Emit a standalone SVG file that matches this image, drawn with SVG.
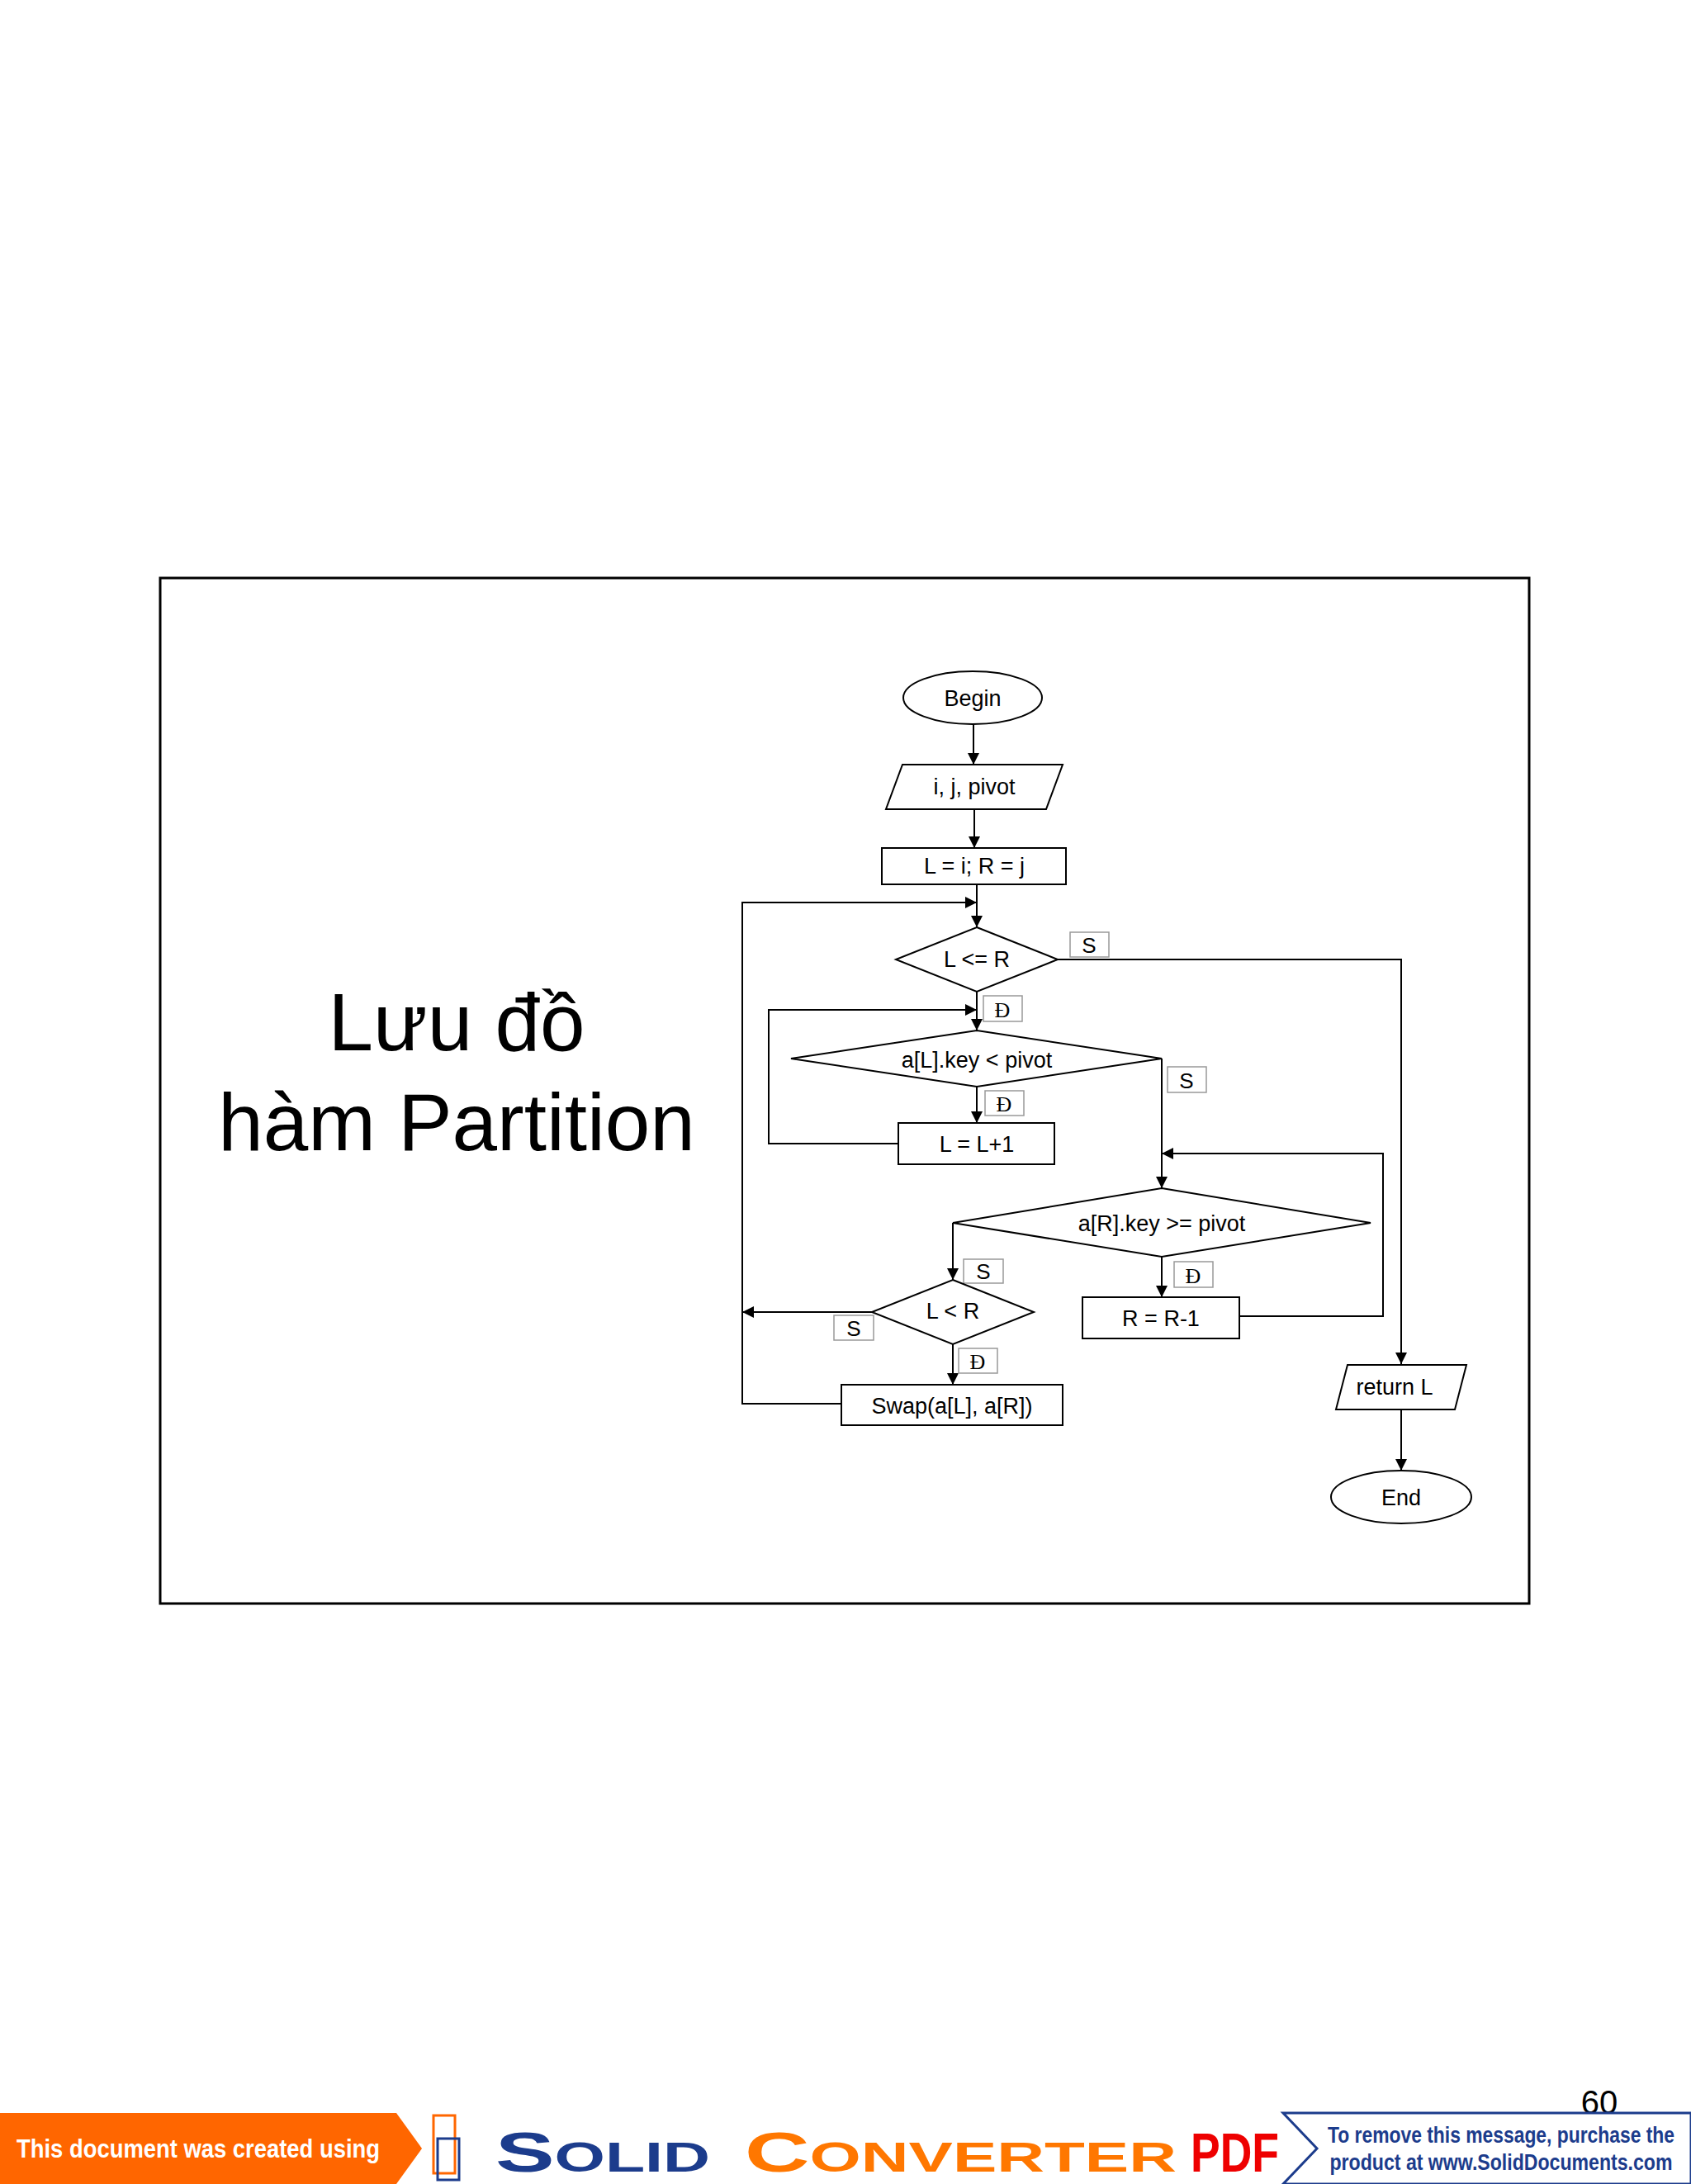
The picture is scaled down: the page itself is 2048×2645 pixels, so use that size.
<svg xmlns="http://www.w3.org/2000/svg" width="2048" height="2645" viewBox="0 0 2048 2645">
<style>
.s{fill:#fff;stroke:#000;stroke-width:2}
.t{font-family:"Liberation Sans",Arial,sans-serif;font-size:27px;text-anchor:middle;fill:#000}
.lb{fill:#fff;stroke:#999;stroke-width:1.5}
.ls{font-family:"Liberation Sans",Arial,sans-serif;font-size:26px;text-anchor:middle}
.ld{font-family:"Liberation Serif",serif;font-size:26px;text-anchor:middle}
.c{fill:none;stroke:#000;stroke-width:2;marker-end:url(#a)}
</style>
<defs><marker id="a" viewBox="0 0 10 10" refX="10" refY="5" markerWidth="16" markerHeight="14" orient="auto" markerUnits="userSpaceOnUse"><path d="M0,0L10,5L0,10z"/></marker></defs>
<rect width="2048" height="2645" fill="#fff"/>
<rect x="194" y="700" width="1658" height="1242" fill="none" stroke="#000" stroke-width="3"/>
<text x="553" y="1272" font-family="Liberation Sans,Arial,sans-serif" font-size="98" text-anchor="middle">Lưu đồ</text>
<text x="553" y="1393" font-family="Liberation Sans,Arial,sans-serif" font-size="98" text-anchor="middle">hàm Partition</text>
<g id="connectors">
<path class="c" d="M1179,877V926"/>
<path class="c" d="M1180,980V1027"/>
<path class="c" d="M1183,1071V1123"/>
<path class="c" d="M1019,1700H899V1093H1183"/>
<path class="c" d="M1281,1162H1697V1652"/>
<path class="c" d="M1183,1201V1248"/>
<path class="c" d="M1088,1385H931V1223H1183"/>
<path class="c" d="M1183,1316V1360"/>
<path class="c" d="M1407,1282V1439"/>
<path class="c" d="M1501,1594H1675V1397H1407"/>
<path class="c" d="M1407,1522V1571"/>
<path class="c" d="M1154,1481V1550"/>
<path class="c" d="M1056,1589H899"/>
<path class="c" d="M1154,1628V1677"/>
<path class="c" d="M1697,1707V1781"/>
</g>
<g id="labels">
<rect class="lb" x="1296" y="1129" width="47" height="30"/><text class="ls" x="1319" y="1154">S</text>
<rect class="lb" x="1191" y="1206" width="47" height="31"/><text class="ld" x="1214" y="1232">Đ</text>
<rect class="lb" x="1414" y="1292" width="47" height="31"/><text class="ls" x="1437" y="1318">S</text>
<rect class="lb" x="1193" y="1321" width="47" height="30"/><text class="ld" x="1216" y="1346">Đ</text>
<rect class="lb" x="1167" y="1525" width="48" height="29"/><text class="ls" x="1191" y="1549">S</text>
<rect class="lb" x="1422" y="1528" width="47" height="31"/><text class="ld" x="1445" y="1554">Đ</text>
<rect class="lb" x="1010" y="1593" width="48" height="30"/><text class="ls" x="1034" y="1618">S</text>
<rect class="lb" x="1161" y="1633" width="47" height="30"/><text class="ld" x="1184" y="1658">Đ</text>
</g>
<g id="begin"><ellipse class="s" cx="1178" cy="845" rx="84" ry="32"/><text class="t" x="1178" y="855">Begin</text></g>
<g id="input"><polygon class="s" points="1093,926 1287,926 1267,980 1073,980"/><text class="t" x="1180" y="962">i, j, pivot</text></g>
<g id="init"><rect class="s" x="1068" y="1027" width="223" height="44"/><text class="t" x="1180" y="1058">L = i; R = j</text></g>
<g id="cond1"><polygon class="s" points="1183,1123 1281,1162 1183,1201 1085,1162"/><text class="t" x="1183" y="1171">L &lt;= R</text></g>
<g id="cond2"><polygon class="s" points="1183,1248 1407,1282 1183,1316 958,1282"/><text class="t" x="1183" y="1293">a[L].key &lt; pivot</text></g>
<g id="incL"><rect class="s" x="1088" y="1360" width="189" height="50"/><text class="t" x="1183" y="1395">L = L+1</text></g>
<g id="cond3"><polygon class="s" points="1407,1439 1660,1481 1407,1522 1154,1481"/><text class="t" x="1407" y="1491">a[R].key &gt;= pivot</text></g>
<g id="decR"><rect class="s" x="1311" y="1571" width="190" height="50"/><text class="t" x="1406" y="1606">R = R-1</text></g>
<g id="cond4"><polygon class="s" points="1154,1550 1252,1589 1154,1628 1056,1589"/><text class="t" x="1154" y="1597">L &lt; R</text></g>
<g id="swap"><rect class="s" x="1019" y="1677" width="268" height="49"/><text class="t" x="1153" y="1712">Swap(a[L], a[R])</text></g>
<g id="ret"><polygon class="s" points="1632,1653 1776,1653 1762,1707 1618,1707"/><text class="t" x="1689" y="1689">return L</text></g>
<g id="end"><ellipse class="s" cx="1697" cy="1813" rx="85" ry="32"/><text class="t" x="1697" y="1823">End</text></g>
<text x="1937" y="2560" font-family="Liberation Sans,Arial,sans-serif" font-size="40" text-anchor="middle">60</text>
<g id="banner">
<polygon points="0,2559 480,2559 511,2602 480,2645 0,2645" fill="#f60"/>
<text x="20" y="2613" font-family="Liberation Sans,Arial,sans-serif" font-size="32" font-weight="bold" fill="#fff" textLength="440" lengthAdjust="spacingAndGlyphs">This document was created using</text>
<rect x="525" y="2562" width="26" height="70" fill="none" stroke="#f60" stroke-width="3"/>
<rect x="530" y="2590" width="26" height="50" fill="none" stroke="#1c3c8c" stroke-width="3"/>
<text x="600" y="2630" font-family="Liberation Sans,Arial,sans-serif" font-size="68" font-weight="bold" fill="#1c3c8c" textLength="260" lengthAdjust="spacingAndGlyphs">S<tspan font-size="50">OLID</tspan></text>
<text x="902" y="2630" font-family="Liberation Sans,Arial,sans-serif" font-size="68" font-weight="bold" fill="#f70" textLength="523" lengthAdjust="spacingAndGlyphs">C<tspan font-size="50">ONVERTER</tspan></text>
<text x="1442" y="2630" font-family="Liberation Sans,Arial,sans-serif" font-size="66" font-weight="bold" fill="#e00" textLength="107" lengthAdjust="spacingAndGlyphs">PDF</text>
<polygon points="1554,2559 2048,2559 2048,2645 1554,2645 1595,2602" fill="#fff" stroke="#1c3c8c" stroke-width="3"/>
<text x="1818" y="2595" font-family="Liberation Sans,Arial,sans-serif" font-size="28" font-weight="bold" fill="#1c3c8c" text-anchor="middle" textLength="420" lengthAdjust="spacingAndGlyphs">To remove this message, purchase the</text>
<text x="1818" y="2628" font-family="Liberation Sans,Arial,sans-serif" font-size="28" font-weight="bold" fill="#1c3c8c" text-anchor="middle" textLength="415" lengthAdjust="spacingAndGlyphs">product at www.SolidDocuments.com</text>
</g>
</svg>
